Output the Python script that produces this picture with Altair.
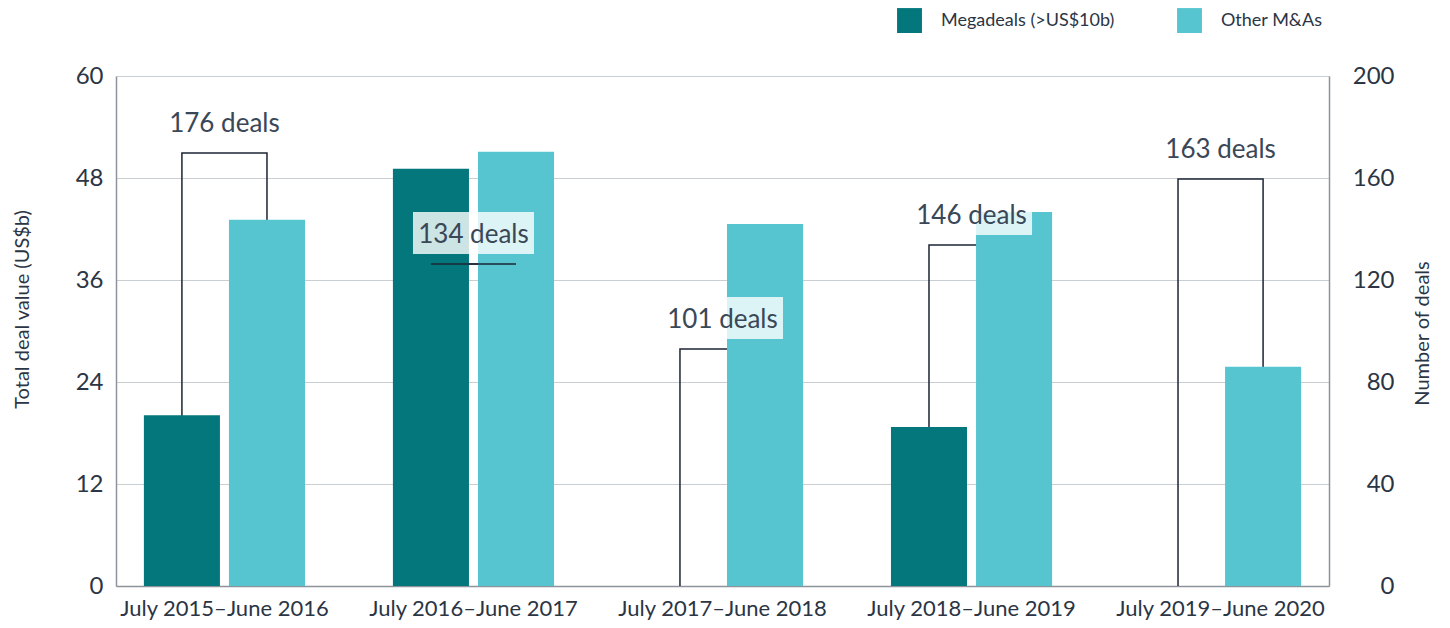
import altair as alt
import pandas as pd

periods = ["July 2015–June 2016", "July 2016–June 2017", "July 2017–June 2018",
           "July 2018–June 2019", "July 2019–June 2020"]
series = ["Megadeals (>US$10b)", "Other M&As"]
megadeals = [20.1, 49.1, 0.0, 18.7, 0.0]
other_mas = [43.1, 51.1, 42.6, 44.0, 25.8]
deal_counts = [176, 134, 101, 146, 163]
bracket_level = [169.8, 126.3, 92.9, 133.7, 159.6]

DARK = "#03777b"
LIGHT = "#56c5d0"
TEXT = "#2b3544"
LABEL = "#3a4757"
LINE = "#1c2535"

bars = pd.DataFrame(
    [{"period": p, "series": series[0], "value": v} for p, v in zip(periods, megadeals)]
    + [{"period": p, "series": series[1], "value": v} for p, v in zip(periods, other_mas)]
)

brk_rows = []
for p, lv in zip(periods, bracket_level):
    brk_rows += [
        {"period": p, "series": series[0], "level": 0, "ord": 0},
        {"period": p, "series": series[0], "level": lv, "ord": 1},
        {"period": p, "series": series[1], "level": lv, "ord": 2},
        {"period": p, "series": series[1], "level": 0, "ord": 3},
    ]
brk = pd.DataFrame(brk_rows)

labels = pd.DataFrame({
    "period": periods,
    "level": bracket_level,
    "label": [f"{n} deals" for n in deal_counts],
})

x_enc = alt.X(
    "period:N", sort=periods,
    scale=alt.Scale(paddingInner=0.353, paddingOuter=0.112),
    axis=alt.Axis(title=None, labelAngle=0, labelFontSize=22, labelColor=TEXT,
                  labelLimit=0,
                  ticks=False, domain=True, domainColor="#8c939a", domainWidth=1.5,
                  labelPadding=12, labelBaseline="top"),
)
xo_enc = alt.XOffset("series:N", sort=series, scale=alt.Scale(paddingInner=0.106))

right_scale = alt.Scale(domain=[0, 200])

bar_layer = alt.Chart(bars).mark_bar().encode(
    x=x_enc,
    xOffset=xo_enc,
    y=alt.Y("value:Q", scale=alt.Scale(domain=[0, 60]),
            axis=alt.Axis(values=[0, 12, 24, 36, 48, 60], title="Total deal value (US$b)",
                          grid=True, gridColor="#c9ced3", gridWidth=1.2,
                          ticks=False, domain=True, domainColor="#8c939a", domainWidth=1.5,
                          labelFontSize=24, labelColor=TEXT, labelPadding=13,
                          titleFontSize=20, titleFontWeight="normal", titleColor=TEXT,
                          titleAngle=270, titleX=-94, titleY=233, titleLimit=0,
                          titleAlign="center", titleBaseline="middle")),
    color=alt.Color("series:N", sort=series,
                    scale=alt.Scale(domain=series, range=[DARK, LIGHT]),
                    legend=alt.Legend(orient="none", legendX=781, legendY=-68,
                                      direction="horizontal", title=None,
                                      symbolType="square", symbolSize=620,
                                      symbolStrokeWidth=0, symbolOpacity=1,
                                      labelFontSize=18, labelColor=TEXT, labelLimit=0,
                                      labelOffset=19, columnPadding=62)),
)

line_layer = alt.Chart(brk).mark_line(color=LINE, strokeWidth=1.5).encode(
    x=x_enc,
    xOffset=xo_enc,
    y=alt.Y("level:Q", scale=right_scale,
            axis=alt.Axis(orient="right", values=[0, 40, 80, 120, 160, 200],
                          title="Number of deals", grid=False, ticks=False,
                          domain=True, domainColor="#8c939a", domainWidth=1.5,
                          labelFontSize=24, labelColor=TEXT, labelAlign="right",
                          labelPadding=65,
                          titleFontSize=20, titleFontWeight="normal", titleColor=TEXT,
                          titleAngle=270, titleX=93, titleY=257, titleLimit=0,
                          titleAlign="center", titleBaseline="middle")),
    detail="period:N",
    order="ord:Q",
)

top_line = alt.Chart(brk).transform_filter(
    (alt.datum.period == periods[1]) & (alt.datum.ord >= 1) & (alt.datum.ord <= 2)
).mark_line(color=LINE, strokeWidth=1.5).encode(
    x=x_enc,
    xOffset=xo_enc,
    y=alt.Y("level:Q", scale=right_scale, axis=None),
    detail="period:N",
    order="ord:Q",
)

box_layer = alt.Chart(labels).mark_point(
    shape="M-1,-0.347L1,-0.347L1,0.347L-1,0.347Z",
    size=121 ** 2, filled=True, fill="white", fillOpacity=0.8,
    strokeWidth=0, yOffset=-31,
).encode(
    x=x_enc,
    y=alt.Y("level:Q", scale=right_scale, axis=None),
)

text_layer = alt.Chart(labels).mark_text(
    fontSize=26, color=LABEL, dy=-29, baseline="middle", align="center",
).encode(
    x=x_enc,
    y=alt.Y("level:Q", scale=right_scale, axis=None),
    text="label:N",
)

chart = alt.layer(
    line_layer, bar_layer, top_line, box_layer, text_layer
).resolve_scale(y="independent").properties(
    width=1213, height=510,
    autosize=alt.AutoSizeParams(type="none"),
    padding={"left": 108, "top": 68, "right": 113, "bottom": 34},
).configure(font="Lato").configure_view(stroke=None)

chart.save("out.html", embed_options={"renderer": "svg", "actions": False})
